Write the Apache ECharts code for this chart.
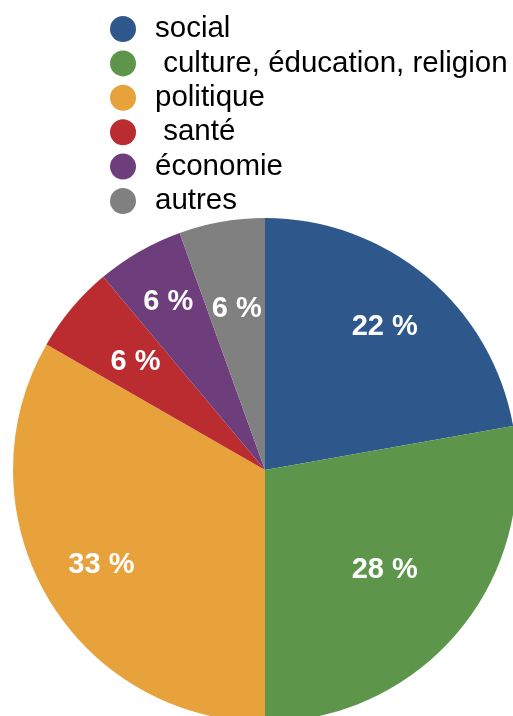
<!DOCTYPE html>
<html>
<head>
<meta charset="utf-8">
<script src="https://cdn.jsdelivr.net/npm/echarts@6/dist/echarts.min.js"></script>
<style>
  html, body { margin: 0; padding: 0; background: #fff; }
  #chart { width: 513px; height: 716px; }
</style>
</head>
<body>
<div id="chart"></div>
<script>
// Domains and their shares (percent)
const categories = ['social', ' culture, éducation, religion', 'politique', ' santé', 'économie', 'autres'];
const shares = [22.2, 27.8, 33.3, 5.6, 5.6, 5.5];

const sliceColors = ['#2E588C', '#5D964A', '#E8A23C', '#BA2C30', '#6E3D7C', '#808080'];
// distance of each value label from the centre, as a fraction of the radius
const labelRadius = [0.74, 0.62, 0.75, 0.67, 0.77, 0.65];

const CX = 265, CY = 470, R = 252;
const FONT = '"Liberation Sans", Arial, Helvetica, sans-serif';

const chart = echarts.init(document.getElementById('chart'), null, { renderer: 'canvas' });

chart.setOption({
  animation: false,
  color: sliceColors,
  legend: {
    orient: 'vertical',
    left: 105,
    top: 9,
    icon: 'circle',
    itemWidth: 26,
    itemHeight: 26,
    itemGap: 4.4,
    selectedMode: false,
    data: categories,
    textStyle: {
      fontFamily: FONT,
      fontSize: 29.5,
      lineHeight: 26,
      color: '#000',
      padding: [0, 0, 0, 14]
    }
  },
  series: [{
    type: 'pie',
    center: [CX, CY],
    radius: [0, R],
    startAngle: 90,
    clockwise: true,
    silent: true,
    avoidLabelOverlap: false,
    itemStyle: { borderWidth: 0 },
    label: {
      show: true,
      position: 'inside',
      color: '#fff',
      fontFamily: FONT,
      fontWeight: 'bold',
      fontSize: 29,
      formatter: p => Math.round(p.value) + ' %'
    },
    labelLine: { show: false },
    labelLayout: function (p) {
      const lx = p.labelRect.x + p.labelRect.width / 2;
      const ly = p.labelRect.y + p.labelRect.height / 2;
      const dx = lx - CX, dy = ly - CY;
      const d = Math.sqrt(dx * dx + dy * dy) || 1;
      const r = R * labelRadius[p.dataIndex];
      return { x: CX + dx / d * r, y: CY + dy / d * r };
    },
    data: categories.map((name, i) => ({ name: name, value: shares[i] }))
  }]
});
</script>
</body>
</html>
